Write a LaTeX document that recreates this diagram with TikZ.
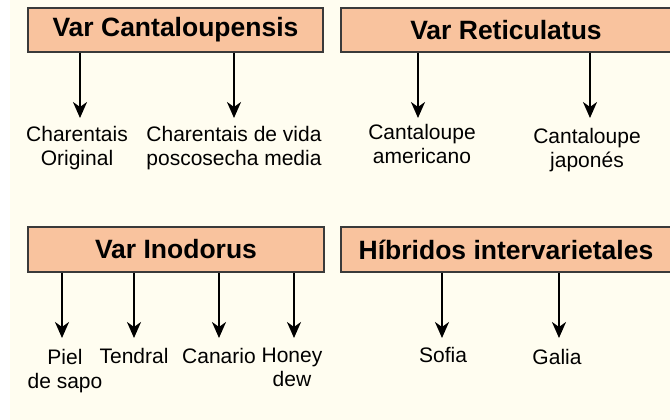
\documentclass[tikz,border=0pt]{standalone}
\usepackage{fontspec}
\setmainfont{Liberation Sans}
\usetikzlibrary{arrows.meta}
\definecolor{cream}{HTML}{FFFDF0}
\definecolor{peach}{HTML}{F9C39E}
\definecolor{edgegray}{HTML}{3A3A3A}
\begin{document}
\begin{tikzpicture}[x=1pt,y=-1pt,
  hdr/.style={draw=edgegray,line width=1.5pt,fill=peach,inner sep=0pt,
    font=\fontsize{26.5}{30}\selectfont\bfseries},
  lbl/.style={align=center,anchor=base,inner sep=0pt,
    font=\fontsize{21}{24}\selectfont},
  arr/.style={line width=2.2pt,-{Stealth[length=16pt,width=14pt,inset=5pt]}}]
\useasboundingbox (0,0) rectangle (670,420);
\fill[cream] (10,0) rectangle (670,420);
% header boxes
\node[hdr,minimum width=295pt,minimum height=44pt] (h1) at (175.5,30) {Var Cantaloupensis};
\node[hdr,minimum width=330pt,minimum height=44pt] (h2) at (506,30) {Var Reticulatus};
\node[hdr,minimum width=296pt,minimum height=45pt] (h3) at (176,249.5) {Var Inodorus};
\node[hdr,minimum width=330pt,minimum height=45pt] (h4) at (506,249.5) {Híbridos intervarietales};
% labels (base = baseline of the last line)
\node[lbl] (a1) at (77,165) {Charentais\\Original};
\node[lbl] (a2) at (234,165) {Charentais de vida\\poscosecha media};
\node[lbl] (b1) at (422,163) {Cantaloupe\\americano};
\node[lbl] (b2) at (587,167) {Cantaloupe\\japonés};
\node[lbl] (c1) at (65,388) {Piel\\de sapo};
\node[lbl] (c2) at (134,363) {Tendral};
\node[lbl] (c3) at (219,363) {Canario};
\node[lbl] (c4) at (292,386) {Honey\\dew};
\node[lbl] (d1) at (443,362) {Sofia};
\node[lbl] (d2) at (557,364) {Galia};
% arrow tips
\coordinate (ea1) at (80,118);
\coordinate (ea2) at (234,118);
\coordinate (eb1) at (418,118);
\coordinate (eb2) at (590,118);
\coordinate (ec1) at (62,338);
\coordinate (ec2) at (134,338);
\coordinate (ec3) at (219,338);
\coordinate (ec4) at (294,338);
\coordinate (ed1) at (442,338);
\coordinate (ed2) at (559,338);
% arrows
\draw[arr] (h1.south -| ea1) -- (ea1);
\draw[arr] (h1.south -| ea2) -- (ea2);
\draw[arr] (h2.south -| eb1) -- (eb1);
\draw[arr] (h2.south -| eb2) -- (eb2);
\draw[arr] (h3.south -| ec1) -- (ec1);
\draw[arr] (h3.south -| ec2) -- (ec2);
\draw[arr] (h3.south -| ec3) -- (ec3);
\draw[arr] (h3.south -| ec4) -- (ec4);
\draw[arr] (h4.south -| ed1) -- (ed1);
\draw[arr] (h4.south -| ed2) -- (ed2);
\end{tikzpicture}
\end{document}
